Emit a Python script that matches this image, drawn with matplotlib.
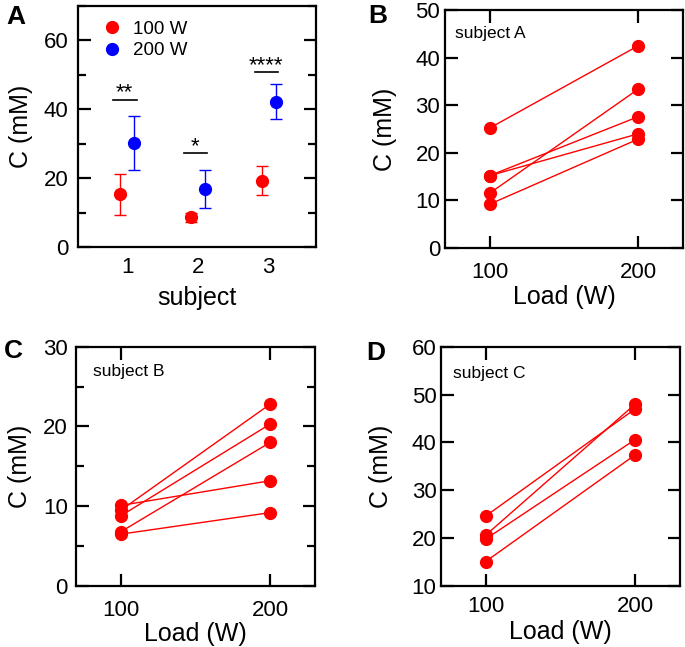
import matplotlib
matplotlib.use("Agg")
import matplotlib.pyplot as plt
from matplotlib.ticker import MultipleLocator, FixedLocator

plt.rcParams['font.family'] = ['Liberation Sans', 'DejaVu Sans']

# ---- Data ----
subjects = [1, 2, 3]
mean_100 = [15.3, 8.6, 19.3]
sd_100 = [6.0, 1.2, 4.1]
mean_200 = [30.2, 16.9, 42.2]
sd_200 = [7.9, 5.6, 5.0]
sig_labels = ['**', '*', '****']
sig_y = [42.8, 27.2, 50.7]

loads = [100, 200]
subjA_100 = [25.2, 15.2, 15.2, 11.5, 9.2]
subjA_200 = [42.5, 27.6, 24.0, 33.4, 22.9]
subjB_100 = [10.1, 9.5, 8.8, 6.8, 6.5]
subjB_200 = [13.2, 22.8, 20.3, 18.0, 9.2]
subjC_100 = [24.6, 20.6, 19.8, 15.1]
subjC_200 = [47.0, 48.0, 40.6, 37.4]

RED = '#ff0000'
BLUE = '#0000ff'
W, H = 685, 647
TICK_FS = 16
LABEL_FS = 18
fig = plt.figure(figsize=(W / 100, H / 100), dpi=100)


def rect(l, r, t, b):
    return [l / W, (H - b) / H, (r - l) / W, (b - t) / H]


def style(ax):
    for s in ax.spines.values():
        s.set_linewidth(1.6)
    ax.tick_params(which='both', direction='in', width=1.6, labelsize=TICK_FS,
                   right=True, top=True)
    ax.tick_params(which='major', length=9)
    ax.tick_params(which='minor', length=6)


# ---- Panel A ----
axA = fig.add_axes(rect(78, 316, 6, 247))
style(axA)
off = 0.1
xs100 = [s - off for s in subjects]
xs200 = [s + off for s in subjects]
e1 = axA.errorbar(xs100, mean_100, yerr=sd_100, fmt='o', color=RED, ms=8.5,
                  elinewidth=1.0, capsize=4.5, capthick=1.0)
e2 = axA.errorbar(xs200, mean_200, yerr=sd_200, fmt='o', color=BLUE, ms=8.5,
                  elinewidth=1.0, capsize=4.5, capthick=1.0)
for s, lab, y in zip(subjects, sig_labels, sig_y):
    axA.plot([s - 0.2, s + 0.13], [y, y], color='black', lw=1.2)
    axA.text(s - 0.04, y + 0.3, lab, ha='center', va='baseline', fontsize=16)
axA.set_xlim(0.3, 3.67)
axA.set_ylim(0, 70)
axA.xaxis.set_major_locator(FixedLocator(subjects))
axA.yaxis.set_major_locator(MultipleLocator(20))
axA.yaxis.set_minor_locator(MultipleLocator(10))
axA.tick_params(axis='x', which='both', length=0, pad=7)
axA.tick_params(axis='y', pad=7)
axA.set_xlabel('subject', fontsize=LABEL_FS)
axA.set_ylabel('C (mM)', fontsize=LABEL_FS)
axA.yaxis.set_label_coords(-0.189, 0.5)
axA.xaxis.set_label_coords(0.5, -0.16)
axA.legend([e1[0], e2[0]], ['100 W', '200 W'], loc='upper left', frameon=False,
           fontsize=13.5, handletextpad=0.5, labelspacing=0.22, borderaxespad=0.2,
           bbox_to_anchor=(0.05, 0.985), handlelength=1.2)
fig.text(15.5 / W, 1 - 17.5 / H, 'A', fontsize=19, fontweight='bold',
         ha='center', va='center')


def pair_panel(r, v100, v200, ylim, ymajor, yminor, txt, txtpos, letter, letpos,
               xpad, ypad, ylab_x, xlab_y):
    ax = fig.add_axes(r)
    style(ax)
    for a, b in zip(v100, v200):
        ax.plot(loads, [a, b], '-o', color=RED, lw=1.0, ms=8.5)
    ax.set_xlim(70, 230)
    ax.set_ylim(*ylim)
    ax.xaxis.set_major_locator(FixedLocator(loads))
    ax.yaxis.set_major_locator(MultipleLocator(ymajor))
    if yminor:
        ax.yaxis.set_minor_locator(MultipleLocator(yminor))
    ax.tick_params(axis='x', pad=xpad)
    ax.tick_params(axis='y', pad=ypad)
    ax.set_xlabel('Load (W)', fontsize=LABEL_FS)
    ax.set_ylabel('C (mM)', fontsize=LABEL_FS)
    ax.yaxis.set_label_coords(ylab_x, 0.5)
    ax.xaxis.set_label_coords(0.5, xlab_y)
    ax.text(txtpos[0], txtpos[1], txt, transform=ax.transAxes, fontsize=12.5,
            ha='left', va='center')
    fig.text(letpos[0] / W, 1 - letpos[1] / H, letter, fontsize=19,
             fontweight='bold', ha='center', va='center')
    return ax


pair_panel(rect(445, 683, 10, 248), subjA_100, subjA_200, (0, 50), 10, None,
           'subject A', (0.042, 0.9), 'B', (378, 16), 10, 3.5, -0.203, -0.155)
pair_panel(rect(76, 315, 346.7, 586), subjB_100, subjB_200, (0, 30), 10, 5,
           'subject B', (0.07, 0.895), 'C', (13.5, 350.5), 10, 6, -0.184, -0.15)
pair_panel(rect(440.7, 680, 346.7, 586), subjC_100, subjC_200, (10, 60), 10, None,
           'subject C', (0.053, 0.888), 'D', (376, 352.5), 7.5, 3, -0.198, -0.14)

fig.savefig('out.png', dpi=100)
